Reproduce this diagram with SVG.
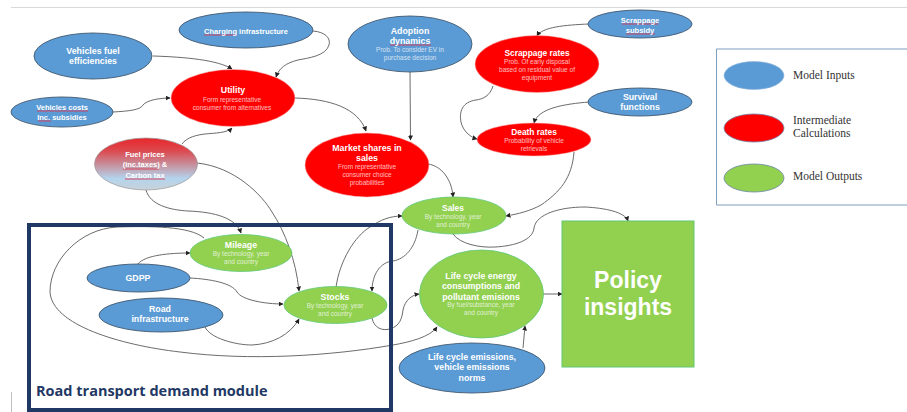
<svg xmlns="http://www.w3.org/2000/svg" width="907" height="412" viewBox="0 0 907 412">
<style>
text{font-family:"Liberation Sans",Arial,sans-serif;text-anchor:middle;fill:#fff}
.t{font-size:8.8px;font-weight:bold}
.n{font-size:7.500px;font-weight:bold}
.r{font-size:8.400px;font-weight:bold}
.s{font-size:6.500px;opacity:.72}
.in{fill:#5b9bd5;stroke:#41586f;stroke-width:.9}
.ca{fill:#f00;stroke:#f4b0b0;stroke-width:.5}
.ou{fill:#92d050;stroke:#5fc876;stroke-width:.8}
.c{fill:none;stroke:#5a5a5a;stroke-width:.9}
.a{marker-end:url(#ah)}
.sq{fill:none;stroke:#dc3a52;stroke-width:.9}
.p{font-size:23px;font-weight:bold}
.lg{font-family:"Liberation Serif",serif;font-size:11.500px;fill:#333;text-anchor:start}
</style>
<defs>
<marker id="ah" markerUnits="userSpaceOnUse" markerWidth="6" markerHeight="6" refX="4.500" refY="2.500" orient="auto"><path d="M0,0 L5,2.500 L0,5 Z" fill="#222"/></marker>
<linearGradient id="fuel" x1="0" y1="0" x2="0" y2="1"><stop offset="0" stop-color="#e8262b"/><stop offset=".25" stop-color="#dc4a50"/><stop offset=".55" stop-color="#c49aa8"/><stop offset=".78" stop-color="#b4d4ee"/><stop offset="1" stop-color="#c8d2d8"/></linearGradient>
</defs>
<path d="M11,7.500H907" stroke="#d9d9d9" fill="none"/>
<path d="M11.500,392V412" stroke="#bfbfbf" fill="none"/>
<g id="connectors">
<path class="c a" d="M153,56 C185,57 218,60 232,69"/>
<path class="c a" d="M313,31 C325,32 331,38 329,45 C326,56 308,58 298,60 C286,63 279,68 276,77"/>
<path class="c a" d="M113,112 C130,111 140,110 143,105 C147,100 160,98 170,98"/>
<path class="c a" d="M182,144 C187,137 197,135 205,134 C215,133 227,133 232,128"/>
<path class="c a" d="M197,163 C235,167 262,195 272,212 C285,232 296,260 299,291"/>
<path class="c a" d="M146,190 C150,205 170,210 188,211 C215,212 236,218 241,233"/>
<path class="c a" d="M295,98 C330,99 358,108 366,131"/>
<path class="c a" d="M410,72 L410.500,140"/>
<path class="c a" d="M428,164 C442,166 452,180 453,197"/>
<path class="c a" d="M589,24 C565,25 542,27 537,36"/>
<path class="c a" d="M589,102 C565,104 538,108 534,123"/>
<path class="c a" d="M493,86 C490,96 483,99 476,100 C462,102 459,112 461,122 C463,131 470,137 477,139"/>
<path class="c a" d="M574,152 C572,178 560,192 541,205 C530,211 518,214 506,216"/>
<path class="c a" d="M453,234 C460,244 480,248 495,247 C515,246 533,240 534,228 C536,214 560,207 585,207 C605,208 625,212 628,221"/>
<path class="c a" d="M204,238 C190,226 150,226 117,227 C80,229 50,260 50,292 C52,325 120,345 180,352 C250,361 330,356 393,345 C410,342 430,337 437,327"/>
<path class="c a" d="M336,287 C340,260 355,236 370,227 C380,220 390,216 402,216"/>
<path class="c a" d="M418,230 C415,248 405,259 393,261 C380,262 372,275 372,291"/>
<path class="c a" d="M372,318 C374,328 382,331 390,329 C400,326 402,318 403,310 C405,300 412,295 419,294"/>
<path class="c a" d="M543,294 L562,294"/>
<path class="c a" d="M523,348 L525,326"/>
<path class="c a" d="M138,264 C145,255 170,253 190,253"/>
<path class="c a" d="M190,278 C210,279 232,283 237,292 C242,300 265,304 283,304"/>
<path class="c a" d="M205,327 C210,338 235,345 252,345 C272,344 290,335 299,319"/>
</g>
<rect id="module-frame" x="29" y="225" width="362" height="185" fill="none" stroke="#1f3864" stroke-width="4"/>
<text id="module-label" x="36" y="396" style="text-anchor:start;font-family:'Open Sans',sans-serif;font-weight:bold;font-size:14.500px;fill:#1f3864">Road transport demand module</text>
<g id="vehicles-fuel"><ellipse class="in" cx="93" cy="56" rx="59" ry="23"/><text class="t" x="93" y="54">Vehicles fuel</text><text class="t" x="93" y="64">efficiencies</text></g>
<g id="charging"><ellipse class="in" cx="246" cy="30" rx="67" ry="18"/><path class="sq" d="M204,35H236"/><text class="n" x="246" y="34">Charging infrastructure</text></g>
<g id="vehicles-costs"><ellipse class="in" cx="62" cy="112" rx="51" ry="15"/><path class="sq" d="M37,111H88M38,121H51"/><text class="n" x="62" y="110">Vehicles costs</text><text class="n" x="62" y="120">Inc. subsidies</text></g>
<g id="utility"><ellipse class="ca" cx="233" cy="98" rx="62" ry="28.500"/><text class="t" x="233" y="93">Utility</text><text class="s" x="232" y="102">Form representative</text><text class="s" x="232" y="110">consumer from alternatives</text></g>
<g id="fuel-prices"><ellipse cx="146" cy="164" rx="51.500" ry="26" fill="url(#fuel)" stroke="#9a9a9a" stroke-width=".7"/><path class="sq" d="M123,169H159M125,179H165"/><text class="n" x="145" y="157">Fuel prices</text><text class="n" x="145" y="167">(inc.taxes) &amp;</text><text class="n" x="145" y="178">Carbon tax</text></g>
<g id="adoption"><ellipse class="in" cx="410" cy="44" rx="62" ry="28"/><path class="sq" d="M390,45H431"/><text class="t" x="410" y="34">Adoption</text><text class="t" x="410" y="44">dynamics</text><text class="s" x="410" y="52">Prob. To consider EV in</text><text class="s" x="410" y="60">purchase decision</text></g>
<g id="scrappage-subsidy"><ellipse class="in" cx="640" cy="24" rx="52" ry="14"/><path class="sq" d="M622,24H658M626,34H655"/><text class="n" x="640" y="23">Scrappage</text><text class="n" x="640" y="33">subsidy</text></g>
<g id="scrappage-rates"><ellipse class="ca" cx="537" cy="64" rx="62" ry="28.500"/><text class="r" x="537" y="56">Scrappage rates</text><text class="s" x="537" y="64">Prob. Of early disposal</text><text class="s" x="537" y="72">based on residual value of</text><text class="s" x="537" y="80">equipment</text></g>
<g id="survival"><ellipse class="in" cx="640" cy="102" rx="52" ry="14"/><text class="t" x="640" y="100">Survival</text><text class="t" x="640" y="110">functions</text></g>
<g id="death-rates"><ellipse class="ca" cx="534" cy="139.500" rx="57" ry="16.500"/><text class="r" x="534" y="135">Death rates</text><text class="s" x="534" y="143">Probability of vehicle</text><text class="s" x="534" y="151">retrievals</text></g>
<g id="market-shares"><ellipse class="ca" cx="367" cy="165" rx="62" ry="32"/><text class="t" x="367" y="151">Market shares in</text><text class="t" x="367" y="161">sales</text><text class="s" x="367" y="169">From representative</text><text class="s" x="367" y="177">consumer choice</text><text class="s" x="367" y="185">probabilities</text></g>
<g id="sales"><ellipse class="ou" cx="454" cy="215.500" rx="52" ry="18.500"/><text class="r" x="453" y="211">Sales</text><text class="s" x="453" y="219">By technology, year</text><text class="s" x="453" y="227">and country</text></g>
<g id="life-cycle-energy"><ellipse class="ou" cx="481.500" cy="294" rx="62" ry="44"/><text class="t" x="481" y="279">Life cycle energy</text><text class="t" x="481" y="289">consumptions and</text><text class="t" x="481" y="300">pollutant emisions</text><text class="s" x="481" y="307">By fuel/substance, year</text><text class="s" x="481" y="315">and country</text></g>
<g id="life-cycle-emissions"><ellipse class="in" cx="472" cy="368" rx="73" ry="25"/><text class="t" x="472" y="360">Life cycle emissions,</text><text class="t" x="472" y="370">vehicle emissions</text><text class="t" x="472" y="381">norms</text></g>
<g id="policy"><rect x="562" y="221" width="132" height="146" fill="#92d050" stroke="#5fc876"/><text class="p" x="628" y="288">Policy</text><text class="p" x="628" y="315">insights</text></g>
<g id="mileage"><ellipse class="ou" cx="241" cy="253" rx="51" ry="18.500"/><text class="t" x="241" y="248">Mileage</text><text class="s" x="241" y="256">By technology, year</text><text class="s" x="241" y="264">and country</text></g>
<g id="gdpp"><ellipse class="in" cx="138.500" cy="278" rx="51.500" ry="14"/><text class="t" x="138" y="281">GDPP</text></g>
<g id="road"><ellipse class="in" cx="161" cy="315" rx="62" ry="17"/><text class="t" x="160" y="312">Road</text><text class="t" x="160" y="322">infrastructure</text></g>
<g id="stocks"><ellipse class="ou" cx="335.500" cy="305" rx="51.500" ry="18.500"/><text class="t" x="335" y="300">Stocks</text><text class="s" x="335" y="308">By technology, year</text><text class="s" x="335" y="316">and country</text></g>
<g id="legend">
<path d="M907,49H716.500V205H907" fill="none" stroke="#7f9dbd"/>
<ellipse cx="754" cy="75.500" rx="30" ry="14" fill="#5b9bd5" stroke="#8fb4d8" stroke-width=".6"/>
<ellipse cx="754" cy="128" rx="30" ry="14" fill="#f00" stroke="#6d86a8" stroke-width=".8"/>
<ellipse cx="754" cy="178" rx="30" ry="14" fill="#92d050" stroke="#6d86a8" stroke-width=".8"/>
<text class="lg" x="793" y="79">Model Inputs</text>
<text class="lg" x="793" y="124">Intermediate</text>
<text class="lg" x="793" y="137">Calculations</text>
<text class="lg" x="793" y="180">Model Outputs</text>
</g>
</svg>
